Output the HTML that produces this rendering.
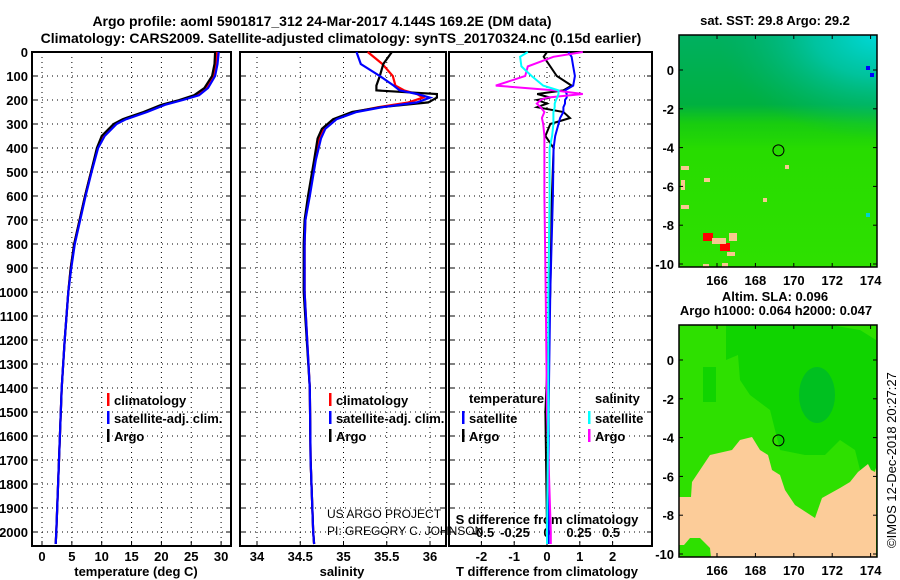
<!DOCTYPE html>
<html><head><meta charset="utf-8"><style>
body{margin:0;background:#fff;}
svg{display:block;font-family:"Liberation Sans",sans-serif;}
.t{font-weight:bold;font-size:13px;fill:#000;}
</style></head><body>
<svg id="c" width="900" height="580" xmlns="http://www.w3.org/2000/svg">
<text x="322" y="26" text-anchor="middle" font-size="14" font-weight="bold">Argo profile: aoml 5901817_312 24-Mar-2017 4.144S 169.2E (DM data)</text>
<text x="341" y="43" text-anchor="middle" font-size="14" font-weight="bold">Climatology: CARS2009. Satellite-adjusted climatology: synTS_20170324.nc (0.15d earlier)</text>
<g id="g"></g>
</svg>
<script>
// ---- data ----
const depthT=[0,50,100,150,180,200,220,250,280,300,350,400,500,600,700,800,900,1000,1200,1400,1600,1800,2000,2050];
const tempArgo=[29.0,28.9,28.5,27.2,25.5,23.0,20.0,17.0,13.5,12.0,10.0,9.2,8.2,7.2,6.3,5.4,4.8,4.4,3.8,3.3,3.0,2.7,2.4,2.3];
const tempClim=[29.3,29.1,28.7,27.5,26.0,23.3,20.3,17.3,13.8,12.3,10.3,9.3,8.2,7.2,6.3,5.4,4.8,4.4,3.8,3.3,3.0,2.7,2.4,2.3];
const tempSat=[29.6,29.4,29.0,27.8,26.3,23.6,20.6,17.6,14.1,12.5,10.5,9.4,8.3,7.3,6.4,5.5,4.9,4.4,3.8,3.3,3.0,2.7,2.4,2.3];
const depthS=[0,50,100,140,160,175,190,210,230,250,280,320,360,450,600,700,800,1000,1400,1700,2000,2050];
const salArgo=[35.56,35.46,35.42,35.38,35.38,36.08,36.08,35.98,35.43,35.10,34.88,34.75,34.70,34.66,34.59,34.55,34.54,34.54,34.61,34.62,34.65,34.66];
const salClim=[35.28,35.45,35.57,35.60,35.70,35.85,35.92,35.75,35.40,35.12,34.90,34.77,34.72,34.67,34.60,34.56,34.55,34.55,34.61,34.62,34.65,34.66];
const salSat=[35.15,35.20,35.42,35.58,35.65,35.85,36.00,35.85,35.45,35.15,34.92,34.79,34.74,34.68,34.61,34.56,34.55,34.55,34.61,34.62,34.65,34.66];
const depthD=[0,20,60,100,140,160,175,190,200,215,230,250,275,300,350,400,600,1000,1500,2000,2050];
const dTArgo=[0,-0.1,0.1,0.3,0.75,0.5,-0.3,0.1,-0.3,0.0,-0.3,0.5,0.7,0.1,-0.05,0.2,0.15,0.1,-0.05,0,0];
const dTSat=[0.65,0.75,0.8,0.85,0.8,0.55,0.6,0.6,0.55,0.55,0.5,0.5,0.4,0.35,0.25,0.2,0.18,0.1,0.05,0.05,0.05];
const dSSat=[-0.15,-0.21,-0.2,-0.12,-0.03,0.09,0.09,0.08,0.07,0.06,0.06,0.05,0.05,0.05,0.04,0.02,0.02,0.01,0.01,0,0];
const dSArgo=[0.28,0.05,-0.15,-0.17,-0.4,0.06,0.28,0.0,-0.05,-0.08,-0.05,-0.02,-0.04,-0.03,-0.02,-0.02,-0.02,-0.01,0,0.03,0.03];
const depthTicks=[0,100,200,300,400,500,600,700,800,900,1000,1100,1200,1300,1400,1500,1600,1700,1800,1900,2000];
const tTicks=[0,5,10,15,20,25,30];
const sTicks=[34,34.5,35,35.5,36];
const dTTicks=[-2,-1,0,1,2];
const dSTicks=["-0.5","-0.25","0","0.25","0.5"];
const lonTicks=[166,168,170,172,174];
const latTicks=[0,-2,-4,-6,-8,-10];

const NS="http://www.w3.org/2000/svg";
const G=document.getElementById('g');
function el(tag,a,parent){const e=document.createElementNS(NS,tag);for(const k in a)e.setAttribute(k,a[k]);(parent||G).appendChild(e);return e;}
function txt(x,y,s,a){const e=el('text',Object.assign({x:x,y:y},a||{}));e.textContent=s;return e;}
const yD=d=>52+d*0.24;
const TOP=52,BOT=546;
const xT=v=>42+v*5.97;
const xS=v=>257+(v-34)*86.5;
const xDT=v=>547+v*32.8;
const xDS=v=>547+v*128;

function panel(x0,x1,name){
  const r=el('rect',{x:x0,y:TOP,width:x1-x0,height:BOT-TOP,fill:'none',stroke:'#000','stroke-width':2});
  
  
  depthTicks.forEach(d=>{
    const l=el('line',{x1:x0,x2:x1,y1:yD(d),y2:yD(d),stroke:'#000','stroke-dasharray':'1 4'});
    
    
    el('line',{x1:x0,x2:x0+5,y1:yD(d),y2:yD(d),stroke:'#000'});
    el('line',{x1:x1-5,x2:x1,y1:yD(d),y2:yD(d),stroke:'#000'});
  });
}
function vgrid(xs,f){
  xs.forEach(v=>{
    const l=el('line',{x1:f(v),x2:f(v),y1:TOP,y2:BOT,stroke:'#000','stroke-dasharray':'1 4'});
    
    
    el('line',{x1:f(v),x2:f(v),y1:BOT-5,y2:BOT,stroke:'#000'});
  });
}
function line(ds,vs,f,col,name,w){
  const p=ds.map((d,i)=>f(vs[i]).toFixed(1)+','+yD(d).toFixed(1)).join(' ');
  const e=el('polyline',{points:p,fill:'none',stroke:col,'stroke-width':w||2.2});
  
  
}
function legend(x,y,items,name){
  items.forEach((it,i)=>{
    el('rect',{x:x,y:y+i*18-10,width:2.5,height:13,fill:it[1]});
    const t=txt(x+7,y+i*18+2,it[0],{class:'t'});
    
    
  });
}
// Panel 1
panel(32,231,'temperature-panel');
vgrid(tTicks,xT);
depthTicks.forEach(d=>{const t=txt(28,yD(d)+5,String(d),{class:'t','text-anchor':'end'});});
tTicks.forEach(v=>{const t=txt(xT(v),561,String(v),{class:'t','text-anchor':'middle'});});
line(depthT,tempClim,xT,'#f00','temp-climatology-line');
line(depthT,tempArgo,xT,'#000','temp-argo-line');
line(depthT,tempSat,xT,'#00f','temp-satellite-line');
legend(107,403,[['climatology','#f00'],['satellite-adj. clim.','#00f'],['Argo','#000']],'temp-legend');
txt(136,576,'temperature (deg C)',{class:'t','text-anchor':'middle'});

// Panel 2
panel(240,446,'salinity-panel');
vgrid(sTicks,xS);
sTicks.forEach(v=>{const t=txt(xS(v),561,String(v),{class:'t','text-anchor':'middle'});});
line(depthS,salClim,xS,'#f00','sal-climatology-line');
line(depthS,salArgo,xS,'#000','sal-argo-line');
line(depthS,salSat,xS,'#00f','sal-satellite-line');
legend(329,403,[['climatology','#f00'],['satellite-adj. clim.','#00f'],['Argo','#000']],'sal-legend');
txt(342,576,'salinity',{class:'t','text-anchor':'middle'});
txt(327,518,'US ARGO PROJECT',{'font-size':12,fill:'#000'});
txt(327,535,'PI: GREGORY C. JOHNSON',{'font-size':12,fill:'#000'});

// Panel 3
panel(449,652,'difference-panel');
vgrid(dTTicks,xDT);
dTTicks.forEach(v=>{const t=txt(xDT(v),561,String(v),{class:'t','text-anchor':'middle'});});
dSTicks.forEach(v=>{const t=txt(xDS(parseFloat(v)),537,v,{class:'t','text-anchor':'middle'});});
txt(547,524,'S difference from climatology',{class:'t','text-anchor':'middle'});
line(depthD,dTArgo,xDT,'#000','tdiff-argo-line',2);
line(depthD,dTSat,xDT,'#00f','tdiff-satellite-line',2);
line(depthD,dSArgo,xDS,'#f0f','sdiff-argo-line',2);
line(depthD,dSSat,xDS,'#0ff','sdiff-satellite-line',2);
txt(469,403,'temperature',{class:'t'});
legend(462,421,[['satellite','#00f'],['Argo','#000']],'tdiff-legend');
txt(595,403,'salinity',{class:'t'});
legend(588,421,[['satellite','#0ff'],['Argo','#f0f']],'sdiff-legend');
txt(547,576,'T difference from climatology',{class:'t','text-anchor':'middle'});

// Maps
const xL=v=>717+(v-166)*19.2;
function mapFrame(y0,name){
  const yLat=v=>y0+35+(0-v)*19.4;
  const r=el('rect',{x:679,y:y0,width:198,height:232,fill:'none',stroke:'#000','stroke-width':1.5});
  
  
  lonTicks.forEach(v=>{el('line',{x1:xL(v),x2:xL(v),y1:y0,y2:y0+4,stroke:'#000'});el('line',{x1:xL(v),x2:xL(v),y1:y0+228,y2:y0+232,stroke:'#000'});const t=txt(xL(v),y0+250,String(v),{class:'t','text-anchor':'middle'});});
  latTicks.forEach(v=>{el('line',{x1:679,x2:683,y1:yLat(v),y2:yLat(v),stroke:'#000'});el('line',{x1:873,x2:877,y1:yLat(v),y2:yLat(v),stroke:'#000'});const t=txt(674,yLat(v)+5,String(v),{class:'t','text-anchor':'end'});});
  const c=el('circle',{cx:xL(169.2),cy:yLat(-4.144),r:5.5,fill:'none',stroke:'#000'});
  
  
}
// map1 background
const d1=el('defs',{});
const lg=el('linearGradient',{id:'sst',x1:0,y1:0,x2:0,y2:1},d1);
el('stop',{offset:'0','stop-color':'#00b060'},lg);el('stop',{offset:'0.3','stop-color':'#00b040'},lg);el('stop',{offset:'0.38','stop-color':'#18cc10'},lg);el('stop',{offset:'0.5','stop-color':'#28dc00'},lg);el('stop',{offset:'1','stop-color':'#2ee000'},lg);
const rg=el('radialGradient',{id:'cy',cx:1,cy:0,r:0.8},d1);
el('stop',{offset:'0','stop-color':'#00d8d8'},rg);el('stop',{offset:'0.4','stop-color':'#00c8b0','stop-opacity':'0.8'},rg);el('stop',{offset:'1','stop-color':'#00b070','stop-opacity':'0'},rg);
const m1=el('rect',{x:679,y:35,width:198,height:232,fill:'url(#sst)'});


el('rect',{x:679,y:35,width:198,height:130,fill:'url(#cy)'});
[[681,166,8,4,'#f8c890'],[681,180,4,10,'#f8c890'],[722,263,6,4,'#f8c890'],[703,264,6,4,'#f8c890'],[727,252,8,4,'#f8c890'],[703,233,10,8,'#f00'],[720,243,10,8,'#f00'],[729,233,8,8,'#f8c890'],[712,238,14,6,'#f8c890'],[866,213,4,4,'#00d0d0'],[870,73,4,4,'#0000ff'],[866,66,4,4,'#0000ff'],[681,205,8,4,'#f8c890'],[763,198,4,4,'#f8c890'],[704,178,6,4,'#f8c890'],[785,165,4,4,'#f8c890']].forEach(r=>el('rect',{x:r[0],y:r[1],width:r[2],height:r[3],fill:r[4]}));
mapFrame(35,'sst-map-frame');
txt(775,25,'sat. SST: 29.8 Argo: 29.2',{class:'t','text-anchor':'middle'});

// map2
const m2=el('rect',{x:679,y:325,width:198,height:232,fill:'#2ee000'});


el('polygon',{points:'726,325 830,325 860,330 876,340 876,470 860,470 855,450 840,440 825,455 805,455 780,450 770,410 750,395 740,380 738,355 726,360',fill:'#10d400'});
el('ellipse',{cx:817,cy:395,rx:18,ry:28,fill:'#00c020'});
el('rect',{x:703,y:367,width:13,height:35,fill:'#10d400'});
el('polygon',{points:'679,497 691,497 692,482 700,470 710,455 732,450 740,440 752,437 760,450 768,455 772,470 780,475 785,490 795,505 815,518 822,498 840,488 850,482 858,472 868,464 871,470 875,472 876,468 876,557 711,557 710,548 700,538 690,538 684,545 679,545',fill:'#fccc99'});
mapFrame(325,'sla-map-frame');
txt(775,301,'Altim. SLA: 0.096',{class:'t','text-anchor':'middle'});
txt(776,315,'Argo h1000: 0.064 h2000: 0.047',{class:'t','text-anchor':'middle'});
const stamp=txt(0,0,'©IMOS 12-Dec-2018 20:27:27',{'font-size':13,fill:'#000',transform:'translate(896,548) rotate(-90)'});


</script>
</body></html>
